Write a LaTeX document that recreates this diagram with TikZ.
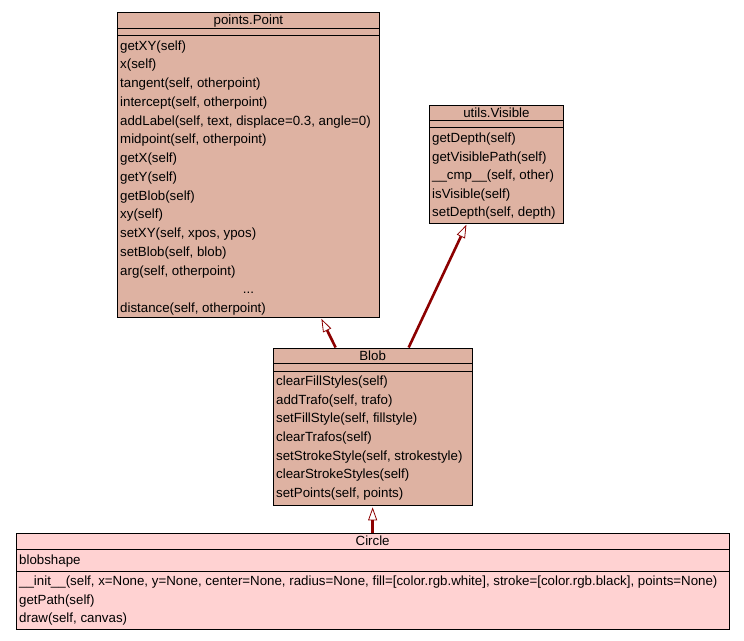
\documentclass[tikz,border=0pt]{standalone}
\usepackage{fontspec}
\setmainfont{Liberation Sans}
\usetikzlibrary{arrows.meta}
\definecolor{linkred}{RGB}{140,0,0}
\definecolor{classfill}{RGB}{222,178,162}
\definecolor{leaffill}{RGB}{255,210,210}

\begin{document}
\begin{tikzpicture}[x=1pt, y=-1pt,
  font=\fontsize{13.3}{15}\selectfont,
  classbox/.style={draw, line width=0.8pt, fill=classfill, inner sep=0pt, anchor=north west},
  member/.style={anchor=west, inner sep=0pt, text height=9.3pt, text depth=0pt},
  titletext/.style={member, anchor=center},
  inherit/.style={draw=linkred, line width=2.6pt,
    -{Triangle[fill=white, length=13pt, width=9pt, line width=0.8pt]}}]
  \useasboundingbox (0,0) rectangle (744,640);
  % points.Point
  \node[classbox, minimum width=262pt, minimum height=305pt] (point) at (117,12) {};
  \draw[line width=0.8pt] (point.north west) ++(0,16) -- ++(262,0)
    (point.north west) ++(0,23.5) -- ++(262,0);
  \node[titletext] (point-title) at ([yshift=-8pt]point.north) {points.Point};
  \foreach \m [count=\i from 0] in {{getXY(self)}, {x(self)}, {tangent(self, otherpoint)},
      {intercept(self, otherpoint)}, {addLabel(self, text, displace=0.3, angle=0)},
      {midpoint(self, otherpoint)}, {getX(self)}, {getY(self)}, {getBlob(self)},
      {xy(self)}, {setXY(self, xpos, ypos)}, {setBlob(self, blob)}, {arg(self, otherpoint)}}
    \node[member] (point-m\i) at ([xshift=3pt, yshift={-33.5pt-18.75pt*\i}]point.north west) {\m};
  \node[titletext] (point-more) at ([yshift={-33.5pt-18.75pt*13}]point.north) {...};
  \node[member] (point-m14) at ([xshift=3pt, yshift={-33.5pt-18.75pt*14}]point.north west) {distance(self, otherpoint)};
  % utils.Visible
  \node[classbox, minimum width=134pt, minimum height=118pt] (visible) at (429,105) {};
  \draw[line width=0.8pt] (visible.north west) ++(0,15) -- ++(134,0)
    (visible.north west) ++(0,22.5) -- ++(134,0);
  \node[titletext] (visible-title) at ([yshift=-7.5pt]visible.north) {utils.Visible};
  \foreach \m [count=\i from 0] in {{getDepth(self)}, {getVisiblePath(self)},
      {\_\_cmp\_\_(self, other)}, {isVisible(self)}, {setDepth(self, depth)}}
    \node[member] (visible-m\i) at ([xshift=3pt, yshift={-33pt-18.5pt*\i}]visible.north west) {\m};
  % Blob
  \node[classbox, minimum width=198.5pt, minimum height=157.5pt] (blob) at (273,347.5) {};
  \draw[line width=0.8pt] (blob.north west) ++(0,16) -- ++(198.5,0)
    (blob.north west) ++(0,23.5) -- ++(198.5,0);
  \node[titletext] (blob-title) at ([yshift=-8pt]blob.north) {Blob};
  \foreach \m [count=\i from 0] in {{clearFillStyles(self)}, {addTrafo(self, trafo)},
      {setFillStyle(self, fillstyle)}, {clearTrafos(self)}, {setStrokeStyle(self, strokestyle)},
      {clearStrokeStyles(self)}, {setPoints(self, points)}}
    \node[member] (blob-m\i) at ([xshift=3pt, yshift={-33.2pt-18.7pt*\i}]blob.north west) {\m};
  % Circle
  \node[classbox, fill=leaffill, minimum width=712.5pt, minimum height=96pt] (circle) at (16,533) {};
  \draw[line width=0.8pt] (circle.north west) ++(0,16) -- ++(712.5,0)
    (circle.north west) ++(0,38) -- ++(712.5,0);
  \node[titletext] (circle-title) at ([yshift=-8pt]circle.north) {Circle};
  \node[member] (circle-a0) at ([xshift=3pt, yshift=-27pt]circle.north west) {blobshape};
  \foreach \m [count=\i from 0] in {{\_\_init\_\_(self, x=None, y=None, center=None, radius=None, fill=[color.rgb.white], stroke=[color.rgb.black], points=None)},
      {getPath(self)}, {draw(self, canvas)}}
    \node[member] (circle-m\i) at ([xshift=3pt, yshift={-48pt-18.5pt*\i}]circle.north west) {\m};
  % inheritance
  \draw[inherit] ([xshift=-37pt]blob.north) -- ([xshift=73pt, yshift=-1pt]point.south);
  \draw[inherit] ([xshift=36pt]blob.north) -- ([xshift=-30pt, yshift=-1pt]visible.south);
  \draw[inherit, shorten >=1.5pt] (circle.north) -- (blob.south);
\end{tikzpicture}
\end{document}
